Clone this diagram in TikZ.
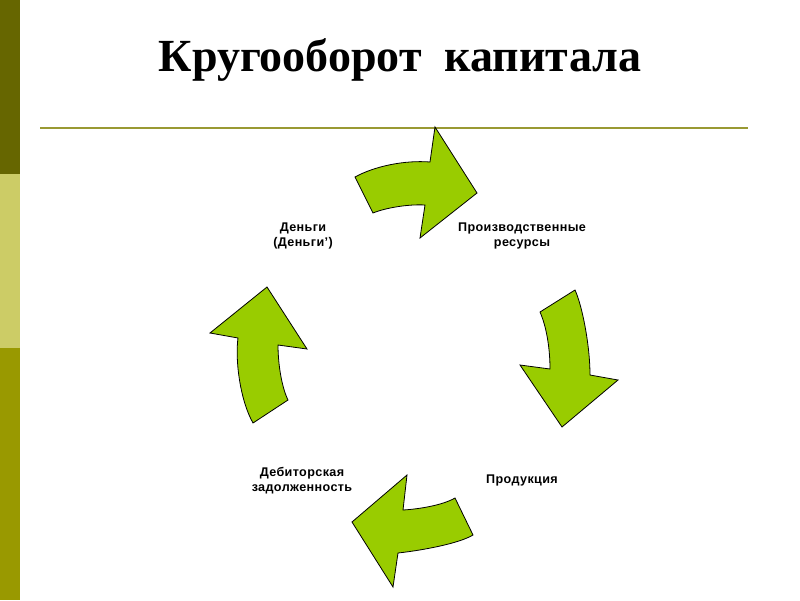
\documentclass[tikz,border=0pt]{standalone}
\usepackage{fontspec}
\setmainfont{Liberation Serif}
\newfontfamily\labelfont[LetterSpace=3]{Liberation Sans}
\definecolor{darkolive}{RGB}{102,102,0}
\definecolor{lightolive}{RGB}{204,204,102}
\definecolor{midolive}{RGB}{153,153,0}
\definecolor{rulecolor}{RGB}{153,153,51}
\definecolor{arrowgreen}{RGB}{153,204,0}
\usetikzlibrary{positioning}
\tikzset{stagelabel/.style = {align=center, font=\labelfont\bfseries\fontsize{12.6}{15}\selectfont, inner sep=0pt}}

\begin{document}
\begin{tikzpicture}[x=1pt,y=-1pt,
  cyclearrow/.style={fill=arrowgreen,draw=black,line width=0.8pt,line join=miter}
  ]
  \useasboundingbox (0,0) rectangle (800,600);
  \fill[white] (0,0) rectangle (800,600);

  % the side bar
  \fill[darkolive] (0,0) rectangle (20,174);
  \fill[lightolive] (0,174) rectangle (20,348);
  \fill[midolive] (0,348) rectangle (20,600);

  % the title and the rule
  \node[anchor=base,inner sep=0pt,font=\bfseries\fontsize{46}{52}\selectfont] (title) at (400,71) {Кругооборот\ \ капитала};
  \draw[rulecolor,line width=2pt] (40,128) -- (748,128);

  % the stages
  \node[stagelabel] (money) at (303,236) {Деньги\\(Деньги’)};
  \node[stagelabel] (resources) at (522,236) {Производственные\\ресурсы};
  \node[stagelabel] (product) at (522,480) {Продукция};
  \node[stagelabel] (debt) at (302,481) {Дебиторская\\задолженность};

  % the arrows
  \draw[cyclearrow] (355,177) .. controls (375,166) and (405,160) .. (430,162) -- (435,127) -- (477,193)
    -- (420,238) -- (425,205) .. controls (408,204) and (385,208) .. (373,213) -- cycle;
  \draw[cyclearrow] (540,312) -- (575,290) .. controls (582,305) and (590,345) .. (590,375) -- (618,380)
    -- (562,427) -- (520,365) -- (550,369) .. controls (550,350) and (547,328) .. cycle;
  \draw[cyclearrow] (455,498) -- (473,535) .. controls (460,543) and (425,550) .. (398,553) -- (393,587)
    -- (352,522) -- (407,475) -- (403,510) .. controls (420,509) and (443,505) .. cycle;
  \draw[cyclearrow] (253,423) -- (288,400) .. controls (282,388) and (278,365) .. (278,345) -- (307,349)
    -- (267,287) -- (210,333) -- (238,338) .. controls (235,360) and (240,400) .. cycle;
\end{tikzpicture}
\end{document}
